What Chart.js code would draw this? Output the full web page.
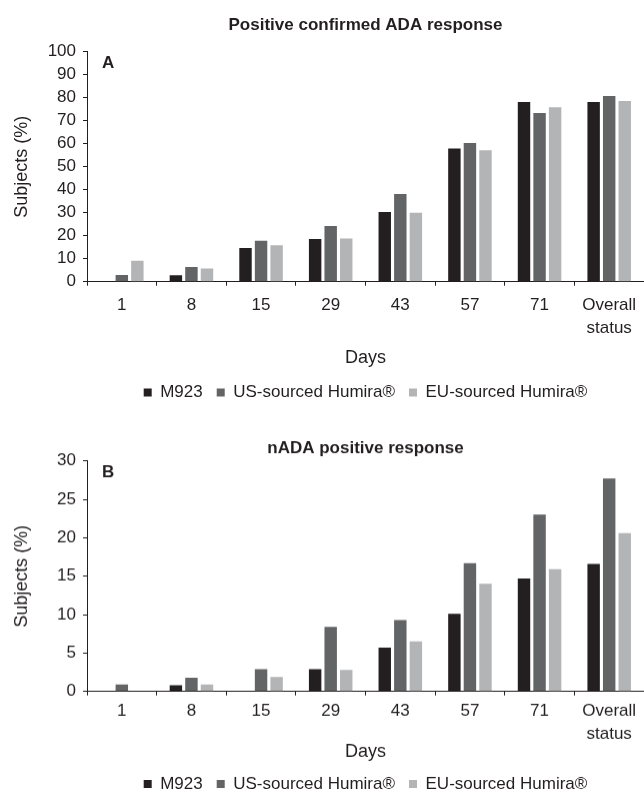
<!DOCTYPE html>
<html>
<head>
<meta charset="utf-8">
<script src="https://cdn.jsdelivr.net/npm/chart.js@4"></script>
<style>
  html, body { margin: 0; padding: 0; background: #fff; overflow: hidden; }
  .box { position: absolute; left: 0; width: 644px; }
  #boxA { top: 0; height: 411px; }
  #boxB { top: 396px; height: 405.5px; }
</style>
</head>
<body>
<div class="box" id="boxA"><canvas id="chartA"></canvas></div>
<div class="box" id="boxB"><canvas id="chartB"></canvas></div>
<script>
// categories (days)
const days = ['1', '8', '15', '29', '43', '57', '71', ['Overall', 'status']];
const seriesNames = ['M923', 'US-sourced Humira®', 'EU-sourced Humira®'];

// panel A - positive confirmed ADA response (%)
const adaM923 = [0, 2.8, 14.6, 18.6, 30.3, 57.9, 78.1, 78.1];
const adaUS   = [2.9, 6.4, 17.8, 24.2, 38.1, 60.3, 73.3, 80.7];
const adaEU   = [9.1, 5.7, 15.9, 18.8, 30.0, 57.1, 75.8, 78.6];

// panel B - nADA positive response (%)
const nadaM923 = [0, 0.8, 0, 2.9, 5.7, 10.1, 14.7, 16.6];
const nadaUS   = [0.9, 1.8, 2.9, 8.4, 9.3, 16.7, 23.0, 27.7];
const nadaEU   = [0, 0.9, 1.9, 2.8, 6.5, 14.0, 15.9, 20.6];

const colors = ['#231f20', '#636466', '#b3b4b6'];
const ink = '#231f20';
const sans = "'Liberation Sans', Arial, sans-serif";

// draws the "A" / "B" panel letter in the top-left corner of the plot
const panelLabel = {
  id: 'panelLabel',
  afterDraw(chart, args, opts) {
    const { ctx, chartArea } = chart;
    ctx.save();
    ctx.font = 'bold 17px ' + sans;
    ctx.fillStyle = ink;
    ctx.textBaseline = 'alphabetic';
    ctx.fillText(opts.text, chartArea.left + 15, chartArea.top + 16.5);
    ctx.restore();
  }
};

function makeChart(id, cfg) {
  const ctx = document.getElementById(id).getContext('2d');
  return new Chart(ctx, {
    type: 'bar',
    data: {
      labels: days,
      datasets: cfg.values.map((vals, i) => ({
        label: seriesNames[i],
        data: vals,
        backgroundColor: colors[i],
        borderWidth: 0,
        barPercentage: 0.8,
        categoryPercentage: 0.67
      }))
    },
    options: {
      responsive: true,
      maintainAspectRatio: false,
      animation: false,
      layout: { padding: 0 },
      plugins: {
        title: {
          display: true,
          text: cfg.title,
          color: ink,
          fullSize: false,
          font: { family: sans, size: 17, weight: 'bold' },
          padding: cfg.titlePad
        },
        legend: {
          position: 'bottom',
          fullSize: false,
          labels: {
            color: ink,
            boxWidth: 8,
            boxHeight: 8,
            padding: 14,
            font: { family: sans, size: 17 }
          }
        },
        tooltip: { enabled: false },
        panelLabel: { text: cfg.panel }
      },
      scales: {
        x: {
          offset: true,
          grid: { display: true, drawOnChartArea: false, offset: true, tickLength: 4, color: ink },
          border: { color: ink, width: 1 },
          ticks: { color: ink, padding: cfg.tickPad, font: { family: sans, size: 17, lineHeight: 1.35 } },
          title: {
            display: true,
            text: 'Days',
            color: ink,
            font: { family: sans, size: 18 },
            padding: { top: 0, bottom: cfg.daysPad }
          },
          afterFit(scale) {
            scale.height = cfg.xHeight;
            scale.paddingLeft = 0;
            scale.paddingRight = 0;
          }
        },
        y: {
          min: 0,
          max: cfg.max,
          ticks: { stepSize: cfg.step, autoSkip: false, color: ink, padding: 7, font: { family: sans, size: 17 } },
          grid: { display: true, drawOnChartArea: false, tickLength: 4, color: ink },
          border: { color: ink, width: 1 },
          title: {
            display: true,
            text: 'Subjects (%)',
            color: ink,
            font: { family: sans, size: 18 },
            padding: { top: 11, bottom: 0 }
          },
          afterFit(scale) { scale.width = 87; }
        }
      }
    },
    plugins: [panelLabel]
  });
}

makeChart('chartA', {
  values: [adaM923, adaUS, adaEU],
  title: 'Positive confirmed ADA response',
  panel: 'A',
  max: 100,
  step: 10,
  titlePad: { top: 14.8, bottom: 16.5 },
  tickPad: 8,
  xHeight: 88.3,
  daysPad: 1.3
});

makeChart('chartB', {
  values: [nadaM923, nadaUS, nadaEU],
  title: 'nADA positive response',
  panel: 'B',
  max: 30,
  step: 5,
  titlePad: { top: 41.8, bottom: 2.5 },
  tickPad: 4,
  xHeight: 69.8,
  daysPad: -1.7
});
</script>
</body>
</html>
